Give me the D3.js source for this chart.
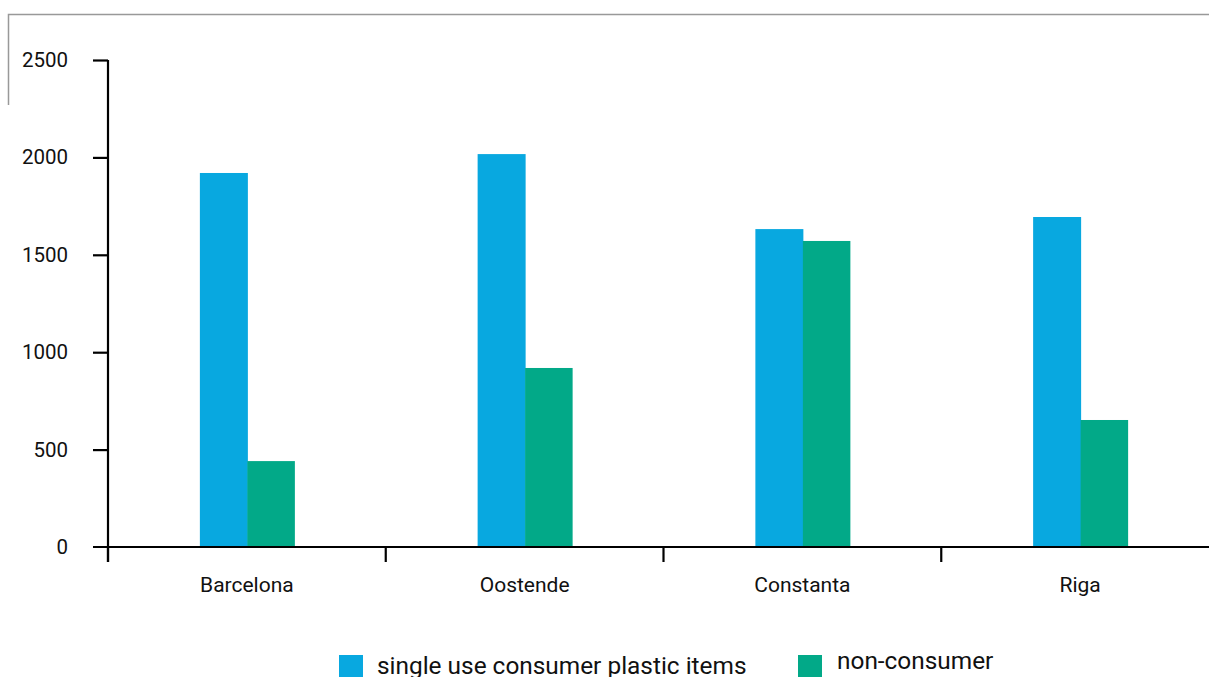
<!DOCTYPE html>
<html><head><meta charset="utf-8">
<script src="https://cdn.jsdelivr.net/npm/d3@7"></script>
<style>body{margin:0;background:#fff;} svg{display:block;font-family:Roboto, "Noto Sans", sans-serif;}</style>
</head><body>
<svg id="c" width="1209" height="677"></svg>
<script>
const categories = ["Barcelona", "Oostende", "Constanta", "Riga"];
const seriesNames = ["single use consumer plastic items", "non-consumer"];
const singleUse = [1920, 2017, 1632, 1694];
const nonConsumer = [441, 919, 1571, 652];
const yTicks = [0, 500, 1000, 1500, 2000, 2500];
const colors = ["#08a8e0", "#02a988"];

const svg = d3.select("#c");
// frame lines
svg.append("path").attr("d", "M8.5,105 V14.5 H1209").attr("fill", "none").attr("stroke", "#999").attr("stroke-width", 1.5);

const y = d3.scaleLinear().domain([0, 2500]).range([547, 60]);
const x = d3.scaleBand().domain(categories).range([108, 1219]).padding(0);
const inner = d3.scaleBand().domain([0, 1]).range([x.bandwidth()/2 - 47.5, x.bandwidth()/2 + 47.5]);

const series = [singleUse, nonConsumer];
categories.forEach((c, i) => {
  series.forEach((s, j) => {
    svg.append("rect")
      .attr("x", x(c) + inner(j) + 0.5)
      .attr("width", inner.bandwidth() + (j === 0 ? 0.5 : 0))
      .attr("y", y(s[i]))
      .attr("height", y(0) - y(s[i]))
      .attr("fill", colors[j]);
  });
});

// y axis
const yAxis = svg.append("g").attr("transform", "translate(108,0)")
  .call(d3.axisLeft(y).tickValues(yTicks).tickFormat(d3.format("d")).tickSize(15).tickPadding(25).tickSizeOuter(0));
yAxis.attr("font-family", null).attr("font-size", null);
yAxis.select(".domain").attr("stroke-width", 2.2).attr("d", "M0,60V562");
yAxis.selectAll(".tick line").attr("stroke-width", 2.2);
yAxis.selectAll(".tick").filter(d => d === 0).select("line").remove();
yAxis.selectAll("text").attr("font-size", 20.5).attr("fill", "#111");

// x axis
const xAxis = svg.append("g").attr("transform", "translate(0,547)")
  .call(d3.axisBottom(x).tickSize(0).tickPadding(30).tickSizeOuter(0));
xAxis.attr("font-family", null).attr("font-size", null);
xAxis.select(".domain").attr("stroke-width", 2.2).attr("d", "M93,0H1209");
xAxis.selectAll("text").attr("font-size", 21).attr("fill", "#111");
xAxis.selectAll(".sep").data(categories).enter().append("line")
  .attr("x1", d => x(d)).attr("x2", d => x(d)).attr("y1", 0).attr("y2", 15)
  .attr("stroke", "#000").attr("stroke-width", 2.2);

// legend
const legend = [{x: 339, tx: 377, ty: 674}, {x: 798, tx: 837, ty: 669}];
seriesNames.forEach((n, j) => {
  svg.append("rect").attr("x", legend[j].x).attr("y", 655).attr("width", 24).attr("height", 22).attr("fill", colors[j]);
  svg.append("text").attr("x", legend[j].tx).attr("y", legend[j].ty)
    .attr("font-size", 24.4).attr("fill", "#111").text(n);
});
</script>
</body></html>
